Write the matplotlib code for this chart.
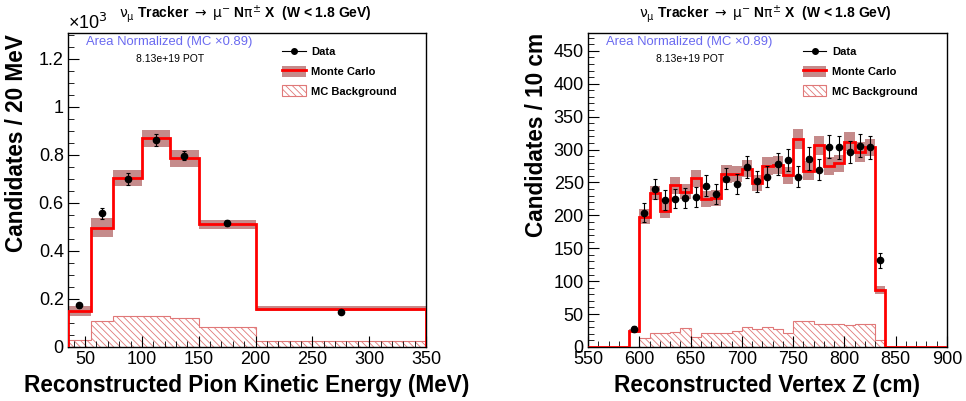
import matplotlib

matplotlib.use("Agg")
import matplotlib.pyplot as plt
import numpy as np
from matplotlib.lines import Line2D
from matplotlib.patches import Patch
from matplotlib.ticker import FuncFormatter, MultipleLocator

plt.rcParams["font.family"] = ["Liberation Sans", "DejaVu Sans"]
plt.rcParams["mathtext.default"] = "rm"
plt.rcParams["hatch.linewidth"] = 0.6

# ---- Left: pion kinetic energy ----
tpi_edges = [35, 55, 75, 100, 125, 150, 200, 350]
tpi_mc = [150, 497, 703, 869, 786, 511, 160]
tpi_mc_err = [20, 40, 33, 37, 35, 20, 10]
tpi_bkg = [29, 108, 131, 128, 119, 82, 26]
tpi_data_x = [45, 65, 87.5, 112.5, 137.5, 175, 275]
tpi_data = [174, 557, 700, 862, 797, 518, 146]
tpi_data_err = [10, 24, 25, 25, 20, 12, 8]

# ---- Right: vertex Z ----
vz_edges = list(range(550, 910, 10))
vz_mc = [0, 0, 0, 0,
         24.8, 198, 233.5, 207, 245.7, 236, 256, 225.4, 226.4, 263, 262.4,
         271, 248.7, 274.6, 276, 261, 316.6, 268, 306.5, 275, 279, 311.6,
         296.4, 303.4, 86.6,
         0, 0, 0, 0, 0, 0]
vz_mc_err = [0, 0, 0, 0,
             3, 11.9, 10.6, 11.4, 12.7, 10.9, 13.2, 12.2, 12.2, 14.2, 11.9,
             13.2, 11.9, 13.9, 13.4, 12.7, 15.2, 13.9, 14.4, 13.9, 13.4, 14.4,
             15, 13.2, 6,
             0, 0, 0, 0, 0, 0]
vz_bkg = [0, 0, 0, 0,
          0, 13.2, 20.8, 21.8, 22.8, 29.4, 14.7, 21.8, 20.8, 21.8, 23.8,
          30.9, 26.8, 30.9, 27.4, 21.8, 39, 39, 34.4, 34.4, 34.4, 34,
          34.4, 35.5, 10.6,
          0, 0, 0, 0, 0, 0]
vz_data_x = list(range(595, 845, 10))
vz_data = [27.4, 204, 239.6, 223.4, 225.4, 226, 227.5, 245.2, 232, 255.8,
           247.7, 273, 251.8, 258.4, 277.6, 284.2, 258.4, 286.2, 269.5,
           304.5, 303.4, 295.8, 306, 303.4, 132]
vz_data_err = [4, 14.7, 15.5, 15, 15, 15, 15, 15.5, 15, 16, 15.5, 16.5, 16,
               16, 16.5, 17, 16, 17, 16.5, 17.5, 17.5, 17, 17.5, 17.5, 11.5]

BAND = "#c58b8b"
BKG = "#e07878"
HATCH = "\\" * 5
TITLE = r"$\nu_{\mu}$ Tracker $\rightarrow$ $\mu^{-}$ N$\pi^{\pm}$ X  (W < 1.8 GeV)"


def draw_panel(ax, edges, mc, mc_err, bkg, dx, dy, derr):
    mc = np.asarray(mc, dtype=float)
    err = np.asarray(mc_err, dtype=float)
    ax.stairs(bkg, edges, fill=True, facecolor="none", edgecolor=BKG,
              hatch=HATCH, lw=0.8, zorder=1)
    ax.stairs(mc + err, edges, baseline=mc - err, fill=True, color=BAND,
              lw=0, zorder=2)
    ax.stairs(mc, edges, color="red", lw=2, zorder=3)
    ax.errorbar(dx, dy, yerr=derr, fmt="o", color="black", ms=4.5,
                elinewidth=0.8, capsize=1.5, capthick=0.8, zorder=4)

    ax.tick_params(which="both", direction="in", top=False, right=False,
                   labelsize=13, pad=3)
    ax.tick_params(which="major", length=8)
    ax.tick_params(which="minor", length=4)
    for s in ax.spines.values():
        s.set_linewidth(1.0)

    ax.text(0.05, 0.97, "Area Normalized (MC ×0.89)", transform=ax.transAxes,
            color="#6a6af0", fontsize=9.4, va="center")
    ax.text(0.19, 0.918, "8.13e+19 POT", transform=ax.transAxes,
            fontsize=7.5, va="center")

    handles = [
        Line2D([], [], color="black", marker="o", ms=4, lw=0.8),
        (Patch(facecolor=BAND, edgecolor="none"), Line2D([], [], color="red", lw=2)),
        Patch(facecolor="none", edgecolor=BKG, hatch=HATCH, lw=0.8),
    ]
    ax.legend(handles, ["Data", "Monte Carlo", "MC Background"], loc="upper left",
              bbox_to_anchor=(0.571, 0.99), frameon=False,
              prop={"weight": "bold", "size": 8}, handlelength=2.1,
              handleheight=1.15, labelspacing=0.75, handletextpad=0.5)


fig = plt.figure(figsize=(9.66, 4.01), dpi=100)
ax1 = fig.add_axes([0.0704, 0.1347, 0.3706, 0.783])
ax2 = fig.add_axes([0.6087, 0.1347, 0.3716, 0.783])

draw_panel(ax1, tpi_edges, tpi_mc, tpi_mc_err, tpi_bkg,
           tpi_data_x, tpi_data, tpi_data_err)
ax1.set_xlim(35, 350)
ax1.set_ylim(0, 1308)
ax1.xaxis.set_major_locator(MultipleLocator(50))
ax1.xaxis.set_minor_locator(MultipleLocator(10))
ax1.yaxis.set_major_locator(MultipleLocator(200))
ax1.yaxis.set_minor_locator(MultipleLocator(50))
ax1.yaxis.set_major_formatter(FuncFormatter(lambda v, p: f"{v / 1000:g}"))
ax1.text(0.0, 1.0, "×10$^{3}$", transform=ax1.transAxes, fontsize=13,
         va="bottom", ha="left")
ax1.set_xlabel("Reconstructed Pion Kinetic Energy (MeV)", fontsize=16.3,
               fontweight="bold")
ax1.set_ylabel("Candidates / 20 MeV", fontsize=16.3, fontweight="bold", loc="top")
ax1.yaxis.set_label_coords(-0.112, 0.995)

draw_panel(ax2, vz_edges, vz_mc, vz_mc_err, vz_bkg,
           vz_data_x, vz_data, vz_data_err)
ax2.set_xlim(550, 900)
ax2.set_ylim(0, 477)
ax2.xaxis.set_major_locator(MultipleLocator(50))
ax2.xaxis.set_minor_locator(MultipleLocator(10))
ax2.yaxis.set_major_locator(MultipleLocator(50))
ax2.yaxis.set_minor_locator(MultipleLocator(10))
ax2.set_xlabel("Reconstructed Vertex Z (cm)", fontsize=16.3, fontweight="bold")
ax2.set_ylabel("Candidates / 10 cm", fontsize=16.3, fontweight="bold", loc="top")
ax2.yaxis.set_label_coords(-0.111, 1.0)

fig.text(0.254, 0.965, TITLE, fontsize=10, fontweight="bold", ha="center", va="center")
fig.text(0.792, 0.965, TITLE, fontsize=10, fontweight="bold", ha="center", va="center")

fig.savefig("out.png", dpi=100)
